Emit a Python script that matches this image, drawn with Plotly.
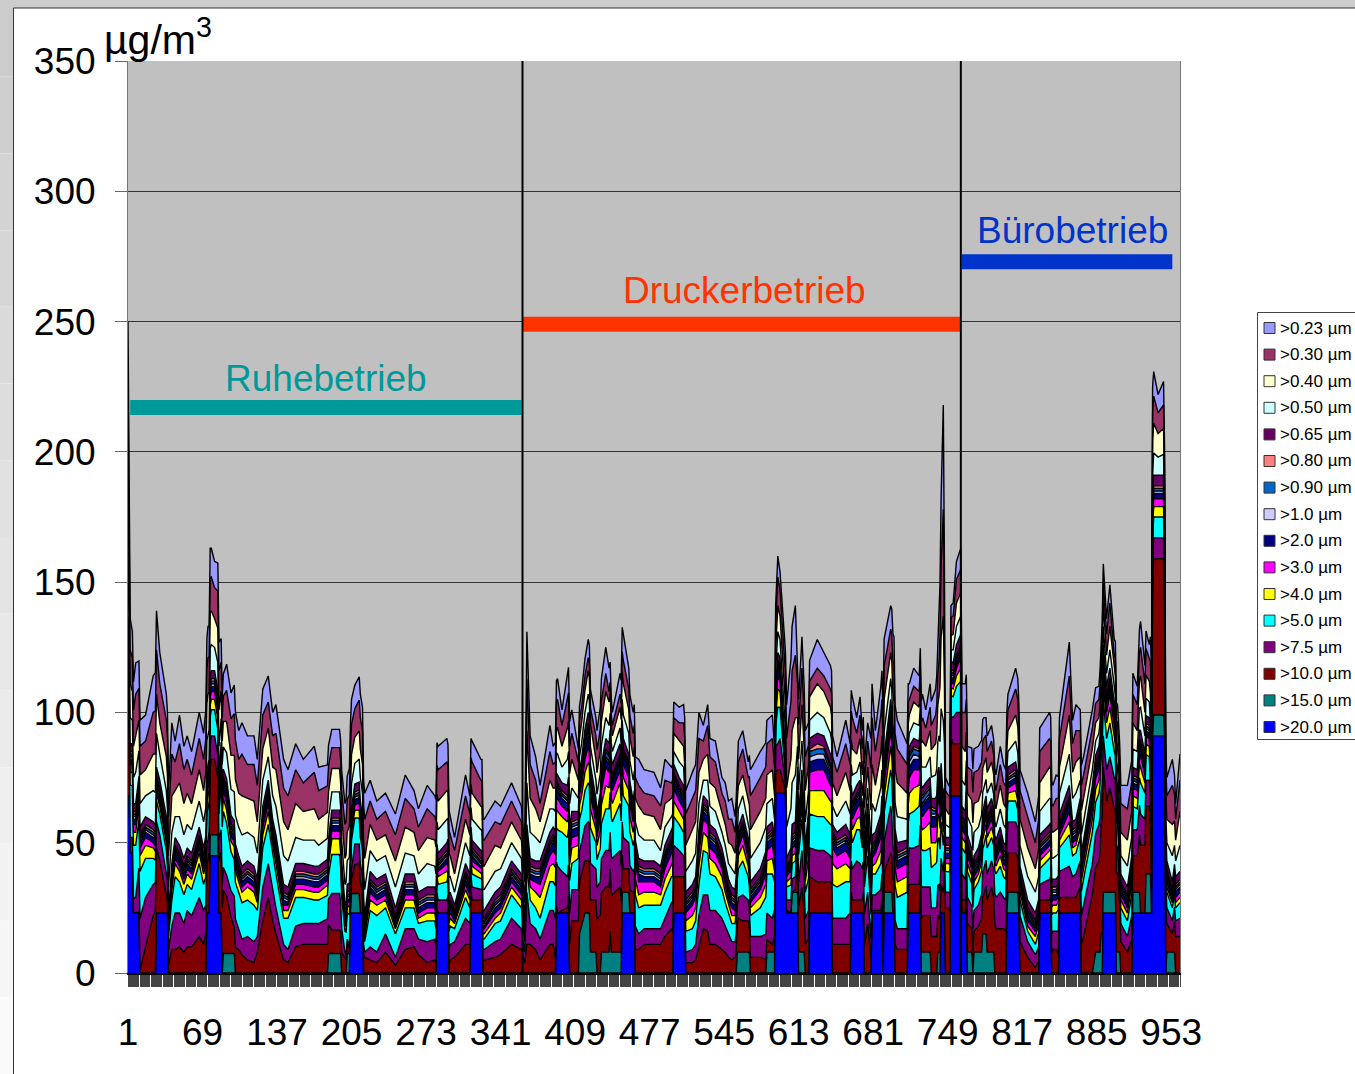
import numpy as np
import plotly.graph_objects as go

W, H = 1355, 1074
sample_x = [
1,2,3,5,8,12,17,24,27,30,
36,38,41,44,48,52,55,59,66,70,
74,77,80,84,87,91,95,98,102,105,
110,116,119,124,129,133,136,143,147,154,
161,171,175,184,187,194,199,203,208,213,
215,217,222,228,236,245,254,262,266,274,
281,284,292,295,299,309,313,315,323,326,
336,341,351,360,363,365,368,373,377,386,
389,393,397,402,406,412,415,421,428,437,
440,443,450,453,458,462,464,467,472,481,
487,491,497,499,504,508,510,516,519,522,
526,530,532,537,543,546,549,552,555,558,
562,567,569,578,584,589,592,594,596,601,
602,607,610,612,616,619,623,630,636,642,
644,648,656,660,662,666,669,671,676,680,
683,688,689,697,700,703,712,714,718,723,
726,729,733,738,741,745,747,750,754,757,
761,762,765,767,773,777,782,785,789,793,
797,800,804,811,815,822,829,833,842,845,
848,851,860,863,866,870,873,881,887,891,
894,897,901,904,907,913,918,922,925,929,
933,935,936,941,946,949,954,957,961]
upper_total = [
182,112,90,85,96,97,99,114,116,100,
84,70,96,89,99,87,91,85,100,92,
110,110,105,104,106,111,100,103,93,96,
91,91,82,109,114,100,103,82,78,88,
82,87,79,80,86,86,65,71,80,84,
79,69,74,66,69,61,76,70,63,72,
68,64,67,60,52,76,68,66,59,59,
66,64,73,64,48,131,91,83,72,95,
87,90,78,92,101,86,90,105,90,117,
109,92,107,99,86,77,83,82,78,77,
71,82,79,81,79,80,70,77,80,100,
95,103,90,89,75,73,66,67,60,81,
85,73,78,85,89,91,72,91,85,54,
80,102,110,89,121,93,97,105,100,95,
91,83,97,88,83,75,83,70,96,88,
70,87,93,110,106,97,88,88,94,91,
99,93,103,109,124,195,75,72,74,90,
95,88,88,79,78,79,83,83,87,76,
87,80,76,86,78,69,58,71,77,72,
76,75,104,74,80,78,83,101,102,126,
105,118,97,95,72,72,84,79,112,95,
88,94,134,123,128,67,74,65,84]
blue_x = [1,2,3,5,6,11,12,26,27,37,38,72,73,75,76,83,84,86,87,203,204,215,216,282,283,293,294,313,314,324,325,
391,392,403,404,451,452,463,464,498,499,509,510,591,592,601,602,612,613,622,623,643,644,660,661,672,673,
679,680,689,690,691,700,701,712,713,724,725,742,743,746,747,751,752,761,762,766,767,802,803,814,815,
832,833,843,844,850,851,870,871,890,891,902,903,917,918,935,936,947,948,961]
blue_y = [68,68,46,46,23,23,0,0,23,23,0,0,23,23,45,45,23,23,0,0,23,23,0,0,23,23,0,0,23,23,0,
0,23,23,0,0,23,23,0,0,23,23,0,0,69,69,23,23,0,0,23,23,0,0,23,23,0,
0,23,23,0,23,23,0,0,23,23,0,0,23,23,0,0,68,68,23,23,0,0,23,23,0,
0,23,23,0,0,23,23,0,0,23,23,0,0,23,23,91,91,0,0]
teal_x = [1,75,76,83,84,87,88,98,99,183,184,195,196,200,201,203,204,205,212,213,
412,413,418,422,423,428,429,432,433,440,441,442,452,458,459,556,557,568,569,583,584,591,592,
606,607,618,619,689,691,698,699,723,724,733,734,739,740,742,743,765,766,771,772,773,780,781,784,785,791,792,
803,804,813,814,881,884,888,889,890,891,901,906,907,917,918,924,925,929,930,934,935,936,937,946,947,948,949,956,957,961]
teal_y = [0,0,8,8,0,0,7.5,7.5,0,0,7.5,7.5,0,0,7.5,7.5,0,7.5,7.5,0,
0,15,23,23,8,8,0,0,8,8,16,8,8,8,0,0,8,8,0,0,8,8,0,
0,8,8,0,0,8,8,0,0,8,8,0,0,8,8,0,0,8,8,0,8,8,15,15,8,8,0,
0,8,8,0,0,8,8,15,15,8,8,8,0,0,8,8,0,0,15,15,0,0,8,8,0,0,8,8,0,0]
red_10 = [
40,20,0,0,0,1,10,22,25,20,
6,3,9,9,10,8,10,10,14,11,
20,29,29,20,25,22,14,10,9,7,
5,4,8,20,29,20,15,5,4,10,
11,11,11,11,9,9,6,2,11,12,
8,6,5,4,8,3,9,10,7,4,
5,0,0,5,6,11,11,5,5,5,
6,7,11,9,4,11,11,9,5,11,
11,0,1,2,20,20,20,20,20,25,
25,22,25,9,9,8,9,9,11,11,
11,14,17,14,14,14,4,4,5,10,
17,16,11,11,9,8,6,5,6,13,
12,12,6,6,5,3,8,9,9,1,
1,0,1,15,25,11,14,12,12,12,
11,11,11,11,5,5,5,5,19,1,
1,1,5,15,12,9,9,11,11,11,
14,14,14,14,14,8,25,25,20,20,
20,5,5,11,8,10,15,20,25,17,
17,17,15,15,12,6,2,5,5,9,
9,6,6,6,6,10,14,30,35,48,
35,40,32,30,12,8,14,14,26,26,
26,10,60,60,60,11,7,14,14]
purple_7_5 = [
10,8,6,6,6,20,19,12,10,10,
10,6,9,14,13,11,14,12,15,13,
8,9,9,8,9,8,10,12,8,6,
9,8,6,13,13,12,10,6,5,8,
8,8,8,10,14,14,2,1,8,7,
6,2,5,4,7,3,8,7,6,8,
8,5,5,6,6,10,8,5,4,4,
6,6,10,8,4,20,8,8,8,13,
13,18,15,12,12,12,12,15,12,14,
14,14,14,12,10,8,9,6,6,6,
6,7,10,12,10,8,4,5,6,12,
13,14,13,13,12,10,9,7,6,8,
10,8,8,8,10,10,10,10,12,3,
4,5,5,8,14,10,11,12,12,10,
10,10,10,12,12,15,14,12,12,6,
6,8,10,18,10,8,8,14,14,15,
11,11,11,11,12,8,6,6,10,12,
12,10,8,10,8,8,10,10,10,12,
14,12,12,12,10,6,5,6,8,7,
7,10,12,8,9,10,12,12,14,12,
12,12,12,10,7,6,10,10,12,10,
10,8,8,8,8,6,5,6,7]
cyan_5 = [
10,14,20,20,20,18,15,10,8,8,
8,5,10,14,12,11,10,10,13,10,
12,10,10,10,22,20,15,14,14,14,
14,14,10,15,15,13,13,10,12,11,
10,9,9,9,15,15,8,12,10,10,
10,4,14,14,10,9,8,8,6,8,
7,6,7,7,5,8,6,5,4,4,
7,7,9,8,4,10,9,8,8,11,
11,14,15,15,10,12,12,15,10,16,
16,14,18,16,14,10,12,10,9,9,
9,10,10,11,10,9,8,8,9,12,
17,16,14,13,11,9,8,7,7,11,
13,9,8,11,15,17,8,14,12,3,
5,6,6,10,12,10,13,13,13,12,
13,12,14,12,10,12,13,8,14,8,
8,10,10,14,14,12,14,13,14,15,
14,14,15,17,18,10,8,8,8,10,
12,10,10,10,8,9,9,10,9,9,
10,8,8,8,6,4,4,6,8,7,
7,9,12,8,8,9,10,12,12,14,
12,13,10,9,6,6,9,8,12,10,
9,6,8,8,8,6,5,5,6]
yellow_4 = [
2,4,5,5,5,6,5,4,3,3,
3,2,4,5,4,4,4,4,4,4,
5,4,4,4,5,5,4,5,4,4,
5,5,3,5,5,4,4,3,3,3,
3,3,3,4,6,6,2,3,3,3,
3,2,4,4,3,2,3,3,2,3,
3,3,4,3,2,3,3,3,2,2,
2,3,3,3,1,4,5,6,8,6,
7,7,6,6,6,5,6,8,5,9,
8,7,8,7,6,5,6,5,5,5,
4,5,5,6,5,5,4,5,5,7,
7,6,6,5,5,4,3,3,3,5,
6,4,3,4,5,6,3,7,6,1,
2,3,3,4,5,4,9,10,10,9,
8,7,7,5,5,4,5,3,6,3,
4,5,5,9,7,6,6,8,9,8,
8,9,10,8,9,5,3,3,3,4,
5,4,4,3,3,3,4,4,4,3,
4,3,3,4,3,2,3,3,3,3,
3,3,5,3,3,4,4,5,5,6,
6,6,5,4,3,3,4,4,6,4,
4,3,4,4,4,2,2,2,2]
magenta_3 = [
1,2,3,3,3,3,3,2,2,2,
2,1,2,2,2,2,2,2,2,2,
3,3,3,3,3,3,2,2,2,2,
2,2,2,3,3,2,3,2,2,2,
2,2,2,2,3,3,1,2,2,3,
2,1,3,2,2,1,2,2,2,2,
2,2,3,2,1,2,2,2,2,2,
2,2,2,2,1,3,3,4,5,4,
5,5,4,4,4,4,4,6,3,7,
6,5,5,5,5,4,6,5,4,4,
3,4,4,5,4,4,3,4,4,5,
5,5,4,4,3,3,2,3,2,3,
4,3,2,3,4,5,3,5,4,1,
2,3,3,3,4,4,7,8,8,6,
6,5,5,4,4,4,5,3,5,3,
4,5,5,6,5,5,5,6,7,6,
5,6,6,6,6,3,2,2,2,3,
4,3,3,3,2,2,3,3,3,2,
3,2,2,3,2,2,2,2,2,2,
2,2,4,2,2,3,3,4,4,5,
4,5,4,3,2,2,3,3,4,3,
3,2,3,3,3,2,1,2,2]
navy_2 = [
1,2,2,2,2,2,2,2,2,2,
2,1,2,2,2,2,2,2,2,2,
3,2,2,2,2,3,2,2,2,2,
2,2,1,2,3,2,2,2,1,2,
2,2,2,2,2,2,1,1,2,2,
2,1,2,2,2,1,2,2,2,2,
2,1,2,2,1,2,2,2,1,1,
2,2,2,2,1,2,2,2,3,3,
3,3,3,3,3,3,3,4,3,3,
3,3,3,3,3,2,3,3,2,2,
2,3,3,3,3,3,2,2,2,3,
3,3,3,3,2,2,2,2,2,2,
2,2,2,2,3,3,2,3,3,1,
1,2,2,2,3,3,4,4,4,4,
3,3,3,3,3,3,3,2,3,2,
2,3,3,4,3,3,3,4,4,4,
4,4,4,4,4,2,2,2,2,2,
2,2,2,2,2,2,2,2,2,2,
2,2,2,2,2,2,1,2,2,2,
2,2,3,2,2,2,2,3,3,3,
3,3,3,2,2,2,2,2,3,2,
2,2,2,2,2,2,1,2,2]
lavender_1 = [
1,1,1,1,1,1,1,1,1,1,
1,1,1,1,1,1,1,1,1,1,
1,1,1,1,1,1,1,1,1,1,
1,1,1,1,1,1,1,1,1,1,
1,1,1,1,1,1,1,1,1,1,
1,1,1,1,1,1,1,1,1,1,
1,1,1,1,1,1,1,1,1,1,
1,1,1,1,1,1,1,1,1,1,
1,1,1,1,1,1,1,2,1,1,
1,1,1,1,1,1,1,1,1,1,
1,1,1,1,1,1,1,1,1,1,
1,1,1,1,1,1,1,1,1,1,
1,1,1,1,1,1,1,1,1,1,
1,1,1,1,1,1,2,2,2,1,
1,1,1,1,1,1,1,1,1,1,
1,1,1,1,1,1,1,2,2,1,
1,1,1,1,2,1,1,1,1,1,
1,1,1,1,1,1,1,1,1,1,
1,1,1,1,1,1,1,1,1,1,
1,1,1,1,1,1,1,1,1,1,
1,1,1,1,1,1,1,1,1,1,
1,1,1,1,1,1,1,1,1]
mid_blue_09 = [
1,1,1,1,1,1,1,1,1,1,
1,1,1,1,1,1,1,1,1,1,
1,1,1,1,1,1,1,1,1,1,
1,1,1,1,1,1,1,1,1,1,
1,1,1,1,1,1,1,1,1,1,
1,1,1,1,1,1,1,1,1,1,
1,1,1,1,1,1,1,1,1,1,
1,1,1,1,1,1,1,1,1,1,
1,1,1,1,1,1,2,2,1,2,
2,1,1,1,1,1,1,1,1,1,
1,1,1,1,1,1,1,1,1,1,
1,1,1,1,1,1,1,1,1,1,
1,1,1,1,1,1,1,1,1,1,
1,1,1,1,1,1,2,2,2,2,
1,1,1,1,1,1,1,1,1,1,
1,1,1,2,1,1,1,2,2,2,
2,2,2,1,1,1,1,1,1,1,
1,1,1,1,1,1,1,1,1,1,
1,1,1,1,1,1,1,1,1,1,
1,1,1,1,1,1,1,1,1,1,
1,1,1,1,1,1,1,1,1,1,
1,1,1,1,1,1,1,1,1]
salmon_08 = [
1,1,1,1,1,1,1,1,1,1,
1,1,1,1,1,1,1,1,1,1,
1,1,1,1,1,1,1,1,1,1,
1,1,1,1,1,1,1,1,1,1,
1,1,1,1,1,1,1,1,1,1,
1,1,1,1,1,1,1,1,1,1,
1,1,1,1,1,1,1,1,1,1,
1,1,1,1,1,1,1,1,1,1,
1,1,1,1,1,1,1,1,1,1,
1,1,1,1,1,1,1,1,1,1,
1,1,1,1,1,1,1,1,1,1,
1,1,1,1,1,1,1,1,1,1,
1,1,1,1,1,1,1,1,1,1,
1,1,1,1,1,1,1,2,1,1,
1,1,1,1,1,1,1,1,1,1,
1,1,1,1,1,1,1,1,1,1,
1,1,1,1,1,1,1,1,1,1,
1,1,1,1,1,1,1,1,1,1,
1,1,1,1,1,1,1,1,1,1,
1,1,1,1,1,1,1,1,1,1,
1,1,1,1,1,1,1,1,1,1,
1,1,1,1,1,1,1,1,1]
dark_purple_065 = [
2,3,3,3,3,3,3,3,3,3,
3,2,3,3,3,3,3,3,3,3,
3,3,3,3,3,3,3,3,3,3,
3,3,3,3,3,3,3,3,3,3,
3,3,3,3,3,3,3,3,3,3,
3,3,3,3,3,3,3,3,3,3,
3,3,3,3,2,3,3,3,3,3,
3,3,3,3,2,4,3,3,3,3,
3,3,3,4,4,3,3,4,3,4,
4,4,4,4,3,3,3,3,3,3,
3,3,3,3,3,3,3,3,3,3,
3,3,3,3,3,3,3,3,3,3,
3,3,3,3,3,3,3,3,3,3,
3,4,4,3,4,3,4,4,4,4,
3,3,4,3,3,3,3,3,3,4,
3,3,4,4,4,4,3,3,3,3,
3,3,3,4,4,5,3,3,3,4,
4,4,4,3,3,3,3,3,3,3,
3,3,3,3,3,3,3,3,3,3,
3,3,4,3,3,3,3,3,3,4,
4,4,4,3,3,3,3,3,4,3,
3,4,4,4,4,3,3,3,3]
light_cyan_05 = [
25,13,10,9,12,9,8,12,13,10,
10,10,12,8,11,9,9,9,10,10,
12,10,9,11,8,10,10,11,11,12,
11,11,10,10,9,9,11,11,10,10,
9,10,8,8,7,7,8,10,8,9,
9,10,8,7,7,8,8,7,7,9,
8,9,9,6,5,8,7,8,8,8,
8,7,7,6,7,16,10,9,7,9,
7,8,6,10,9,5,6,7,7,8,
7,5,6,9,8,8,7,9,8,8,
6,7,5,5,6,7,8,9,9,10,
6,8,7,7,6,7,6,7,6,7,
7,6,9,10,9,9,7,8,7,8,
12,16,18,8,11,10,7,8,7,8,
7,6,9,8,8,5,7,6,6,12,
8,10,10,8,10,10,8,5,6,6,
8,6,8,9,12,30,5,4,5,7,
7,10,10,7,9,8,7,6,6,5,
7,7,6,8,8,9,8,9,10,8,
9,8,12,9,10,7,7,6,5,7,
5,7,5,7,7,8,7,7,9,7,
6,12,9,7,8,7,10,6,10]
light_yellow_04 = [
28,15,13,11,14,11,10,14,15,12,
13,12,14,10,13,12,12,10,12,12,
15,13,11,14,9,12,13,14,13,15,
13,14,12,12,11,11,14,13,12,13,
11,12,10,10,9,9,10,12,10,11,
11,12,10,8,8,10,10,9,9,10,
10,11,11,8,7,9,8,10,9,9,
10,8,8,7,8,20,13,11,8,11,
8,10,8,12,11,7,8,9,8,10,
9,6,8,12,9,9,9,11,10,9,
8,9,7,7,8,8,10,12,12,12,
8,10,9,9,7,8,8,9,8,9,
8,8,11,12,11,11,8,10,9,10,
15,20,22,11,14,12,9,11,10,10,
9,8,11,9,10,7,9,8,8,15,
10,13,13,10,13,13,10,7,8,7,
10,8,10,12,15,40,6,5,6,9,
9,13,13,9,11,10,9,8,8,7,
9,8,8,10,10,11,9,11,12,10,
10,10,15,10,12,9,9,8,6,9,
7,9,7,8,9,10,10,8,12,9,
8,15,12,9,10,9,12,8,13]
periwinkle_023 = [
30,12,12,10,12,10,10,14,15,12,
10,10,12,8,11,9,9,9,10,10,
12,11,10,11,8,10,10,11,11,12,
11,11,10,10,10,9,11,11,10,10,
9,10,9,8,7,7,8,10,9,9,
9,10,8,7,7,8,9,7,7,9,
8,9,9,7,5,8,7,8,8,8,
8,7,7,6,7,18,11,9,7,10,
7,8,6,10,9,5,6,7,7,10,
9,5,8,10,8,8,8,10,9,9,
7,8,6,6,6,7,9,10,10,10,
6,8,7,8,6,7,7,8,6,8,
7,6,10,10,9,9,7,8,7,8,
13,17,19,9,12,10,8,11,9,9,
8,6,9,8,8,6,7,7,7,13,
8,11,11,9,11,11,8,6,7,6,
9,7,9,10,13,40,5,4,5,7,
8,11,11,8,9,9,8,6,6,6,
7,7,6,8,8,9,8,9,10,8,
9,8,13,9,10,8,7,7,5,7,
6,7,6,7,7,9,8,7,10,7,
6,13,10,7,9,7,10,6,10]

tick_labels = ["1","69","137","205","273","341","409","477","545","613","681","749","817","885","953"]
y_ticks = [0,50,100,150,200,250,300,350]
phase_names = ["Ruhebetrieb","Druckerbetrieb","Bürobetrieb"]
phase_x = [[3,360],[361,761],[762,954]]
phase_y = [217,249,273]
phase_colors = ["#009999","#FF3300","#0033CC"]
divider_x = [361,761]

others = [red_10,purple_7_5,cyan_5,yellow_4,magenta_3,navy_2,lavender_1,mid_blue_09,salmon_08,dark_purple_065,light_cyan_05,light_yellow_04,periwinkle_023]
mauve_03 = np.clip(np.array(upper_total,float)-np.sum(np.array(others,float),axis=0),1,None).tolist()

series = [
 (">20.0 µm",blue_x,blue_y,"#0000FF"),
 (">15.0 µm",teal_x,teal_y,"#008080"),
 (">10.0 µm",sample_x,red_10,"#800000"),
 (">7.5 µm",sample_x,purple_7_5,"#800080"),
 (">5.0 µm",sample_x,cyan_5,"#00FFFF"),
 (">4.0 µm",sample_x,yellow_4,"#FFFF00"),
 (">3.0 µm",sample_x,magenta_3,"#FF00FF"),
 (">2.0 µm",sample_x,navy_2,"#000080"),
 (">1.0 µm",sample_x,lavender_1,"#CCCCFF"),
 (">0.90 µm",sample_x,mid_blue_09,"#0066CC"),
 (">0.80 µm",sample_x,salmon_08,"#FF8080"),
 (">0.65 µm",sample_x,dark_purple_065,"#660066"),
 (">0.50 µm",sample_x,light_cyan_05,"#CCFFFF"),
 (">0.40 µm",sample_x,light_yellow_04,"#FFFFCC"),
 (">0.30 µm",sample_x,mauve_03,"#993366"),
 (">0.23 µm",sample_x,periwinkle_023,"#9999FF"),
]

def px(x): return x/W
def py(y): return 1-y/H

fig = go.Figure()
for name,x,y,col in series:
    fig.add_trace(go.Scatter(x=x,y=y,name=name,mode="lines",stackgroup="a",stackgaps="interpolate",
        line=dict(color="#000000",width=1.4),fillcolor=col,hoverinfo="skip",showlegend=False))
for xs,yv,col in zip(phase_x,phase_y,phase_colors):
    fig.add_trace(go.Scatter(x=xs,y=[yv,yv],mode="lines",line=dict(color=col,width=15),showlegend=False,hoverinfo="skip"))
for dx in divider_x:
    fig.add_trace(go.Scatter(x=[dx,dx],y=[0,350],mode="lines",line=dict(color="#000000",width=2),showlegend=False,hoverinfo="skip"))

shapes = []
n = 14
for i in range(n):
    v = int(204+(250-204)*i/(n-1))
    c = f"rgb({v},{v},{v})"
    shapes.append(dict(type="rect",xref="paper",yref="paper",x0=0,x1=px(13),y0=py(H*i/n),y1=py(H*(i+1)/n),fillcolor=c,line_width=0,layer="below"))
shapes.append(dict(type="rect",xref="paper",yref="paper",x0=0,x1=1,y0=py(8),y1=1,fillcolor="#CCCCCC",line_width=0,layer="below"))
shapes.append(dict(type="line",xref="paper",yref="paper",x0=px(13.5),x1=px(13.5),y0=0,y1=py(8),line=dict(color="#333333",width=1),layer="below"))
shapes.append(dict(type="line",xref="paper",yref="paper",x0=px(13.5),x1=1,y0=py(8),y1=py(8),line=dict(color="#333333",width=1),layer="below"))
shapes.append(dict(type="rect",xref="paper",yref="paper",x0=px(1257.5),x1=px(1360),y0=py(312.5),y1=py(739.5),fillcolor="#FFFFFF",line=dict(color="#444444",width=1)))
annotations = []
for i,(name,_,_,col) in enumerate(reversed(series)):
    yc = 328+i*26.6
    shapes.append(dict(type="rect",xref="paper",yref="paper",x0=px(1264),x1=px(1275),y0=py(yc-5.5),y1=py(yc+5.5),fillcolor=col,line=dict(color="#333333",width=1)))
    annotations.append(dict(xref="paper",yref="paper",x=px(1278),y=py(yc),text=name,showarrow=False,xanchor="left",yanchor="middle",
        font=dict(family="Liberation Sans",size=17,color="#000000")))
annotations.append(dict(xref="paper",yref="paper",x=px(102),y=py(65),text="µg/m<sup>3</sup>",showarrow=False,xanchor="left",yanchor="bottom",
    font=dict(family="Liberation Sans",size=41,color="#000000")))
for name,cx,cy,col in zip(phase_names,[326,744,1072],[378,290,230],phase_colors):
    annotations.append(dict(xref="paper",yref="paper",x=px(cx),y=py(cy),text=name,showarrow=False,xanchor="center",yanchor="middle",
        font=dict(family="Liberation Sans",size=37,color=col)))

all_ticks = list(range(1,962))
lab = {1+68*i:t for i,t in enumerate(tick_labels)}
fig.update_layout(width=W,height=H,margin=dict(l=0,r=0,t=0,b=0,pad=0),paper_bgcolor="#FFFFFF",plot_bgcolor="#C0C0C0",
    shapes=shapes,annotations=annotations,showlegend=False,
    font=dict(family="Liberation Sans",color="#000000"),
    xaxis=dict(domain=[px(128),px(1180)],range=[1,961],tickmode="array",tickvals=all_ticks,ticktext=[lab.get(t,"") for t in all_ticks],
        tickangle=0,ticks="outside",ticklen=12,tickwidth=0.7,tickcolor="#444444",showgrid=False,zeroline=False,
        showline=True,linecolor="#000000",linewidth=2,tickfont=dict(size=37),ticklabelstandoff=14,automargin=False),
    yaxis=dict(domain=[py(973),py(61)],range=[0,350],tickmode="array",tickvals=y_ticks,ticks="outside",ticklen=12,tickwidth=1,tickcolor="#666666",
        showgrid=True,gridcolor="#333333",gridwidth=1,zeroline=False,showline=True,mirror=True,linecolor="#777777",linewidth=1,
        tickfont=dict(size=37),ticklabelstandoff=12,automargin=False))
fig.write_html("out.html",post_script="document.body.style.margin='0';document.body.style.overflow='hidden';",config=dict(displayModeBar=False,responsive=False))
